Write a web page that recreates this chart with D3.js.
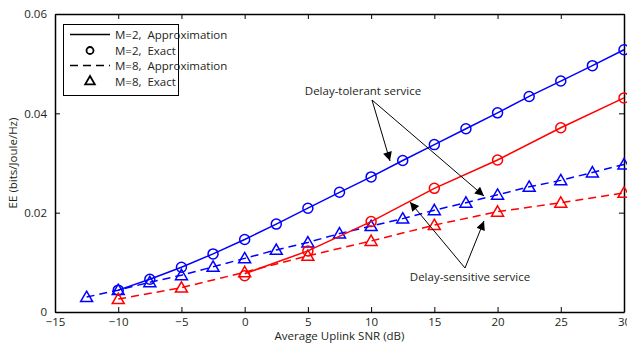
<!DOCTYPE html>
<html>
<head>
<meta charset="utf-8">
<script src="https://cdn.jsdelivr.net/npm/d3@7"></script>
<style>
  html, body { margin: 0; padding: 0; background: #fff; }
  svg { display: block; font-family: "Open Sans", sans-serif; }
</style>
</head>
<body>
<svg id="chart" width="627" height="347"></svg>
<script>
// SNR grid (dB)
const snrFine = [-12.5, -10, -7.5, -5, -2.5, 0, 2.5, 5, 7.5, 10, 12.5, 15, 17.5, 20, 22.5, 25, 27.5, 30];
const snrTolM2 = [-10, -7.5, -5, -2.5, 0, 2.5, 5, 7.5, 10, 12.5, 15, 17.5, 20, 22.5, 25, 27.5, 30];
const snrSensM2 = [0, 5, 10, 15, 20, 25, 30];
const snrSensM8 = [-10, -5, 0, 5, 10, 15, 20, 25, 30];

// Delay-tolerant, M=2 (approximation and exact coincide)
const eeTolM2 = [0.0044, 0.0066, 0.0090, 0.0117, 0.0146, 0.0177, 0.0209, 0.0241, 0.0272, 0.0305, 0.0337, 0.0369, 0.0401, 0.0434, 0.0465, 0.0496, 0.0528];
// Delay-tolerant, M=8
const eeTolM8 = [0.0030, 0.0044, 0.0060, 0.0074, 0.0091, 0.0108, 0.0125, 0.0140, 0.0158, 0.0173, 0.0188, 0.0205, 0.0220, 0.0236, 0.0252, 0.0265, 0.0281, 0.0297];
// Delay-sensitive, M=2
const eeSensM2Approx = [0.0077, 0.0123, 0.0182, 0.0249, 0.0306, 0.0371, 0.0431];
const eeSensM2Exact  = [0.0073, 0.0123, 0.0182, 0.0249, 0.0306, 0.0371, 0.0431];
// Delay-sensitive, M=8
const eeSensM8 = [0.0026, 0.0049, 0.0080, 0.0113, 0.0143, 0.0175, 0.0202, 0.0220, 0.0240];

const xTicks = [-15, -10, -5, 0, 5, 10, 15, 20, 25, 30];
const yTicks = [0, 0.02, 0.04, 0.06];
const yTickLabels = ["0", "0.02", "0.04", "0.06"];

const legendLabels = ["M=2,  Approximation", "M=2,  Exact", "M=8,  Approximation", "M=8,  Exact"];

const svg = d3.select("#chart");
const x = d3.scaleLinear().domain([-15, 30]).range([55, 624]);
const y = d3.scaleLinear().domain([0, 0.06]).range([312, 14]);

const BLUE = "#0000ff", RED = "#ff0000";
const DASH = "8,5";
const TEXT = "#231f20";
const FS = 11.5;

// Axes (MATLAB-style box with inward ticks)
const tickLen = 5;
const axBottom = d3.axisBottom(x).tickValues(xTicks).tickSizeInner(-tickLen).tickSizeOuter(0).tickPadding(8)
  .tickFormat(d => d < 0 ? "\u2212" + Math.abs(d) : String(d));
const axTop = d3.axisTop(x).tickValues(xTicks).tickSizeInner(-tickLen).tickSizeOuter(0).tickFormat("");
const axLeft = d3.axisLeft(y).tickValues(yTicks).tickSizeInner(-tickLen).tickSizeOuter(0).tickPadding(8)
  .tickFormat((d, i) => yTickLabels[i]);
const axRight = d3.axisRight(y).tickValues(yTicks).tickSizeInner(-tickLen).tickSizeOuter(0).tickFormat("");

function styleAxis(g) {
  g.select(".domain").attr("stroke", "#000").attr("stroke-width", 1.5);
  g.selectAll(".tick line").attr("stroke", "#000").attr("stroke-width", 1);
  g.selectAll(".tick text").attr("fill", TEXT).attr("font-size", FS).attr("font-family", "Open Sans, sans-serif");
}

const gx = svg.append("g").attr("transform", `translate(0,${y(0)})`).call(axBottom).call(styleAxis);
svg.append("g").attr("transform", `translate(0,${y(0.06)})`).call(axTop).call(styleAxis);
svg.append("g").attr("transform", `translate(${x(-15)},0)`).call(axLeft).call(styleAxis);
svg.append("g").attr("transform", `translate(${x(30)},0)`).call(axRight).call(styleAxis);
gx.selectAll(".tick text").attr("dy", "0.55em");

// Axis titles
svg.append("text").attr("x", (x(-15) + x(30)) / 2).attr("y", 340).attr("text-anchor", "middle")
  .attr("font-size", FS).attr("fill", TEXT).text("Average Uplink SNR (dB)");
svg.append("text").attr("transform", `translate(17,${(y(0) + y(0.06)) / 2}) rotate(-90)`)
  .attr("text-anchor", "middle").attr("font-size", FS).attr("fill", TEXT).text("EE (bits/Joule/Hz)");

const line = d3.line();
function drawLine(xs, ys, color, dash) {
  svg.append("path")
    .attr("d", line(xs.map((d, i) => [x(d), y(ys[i])])))
    .attr("fill", "none").attr("stroke", color).attr("stroke-width", 1.5)
    .attr("stroke-dasharray", dash || null);
}
const triSymbol = d3.symbol().type(d3.symbolTriangle).size(62);
function drawCircles(xs, ys, color) {
  svg.append("g").selectAll("circle").data(xs).join("circle")
    .attr("cx", d => x(d)).attr("cy", (d, i) => y(ys[i])).attr("r", 5)
    .attr("fill", "none").attr("stroke", color).attr("stroke-width", 1.5);
}
function drawTriangles(xs, ys, color) {
  svg.append("g").selectAll("path").data(xs).join("path")
    .attr("d", triSymbol)
    .attr("transform", (d, i) => `translate(${x(d)},${y(ys[i]) + 1})`)
    .attr("fill", "none").attr("stroke", color).attr("stroke-width", 1.5);
}

// Series
drawLine(snrTolM2, eeTolM2, BLUE);
drawCircles(snrTolM2, eeTolM2, BLUE);
drawLine(snrFine, eeTolM8, BLUE, DASH);
drawTriangles(snrFine, eeTolM8, BLUE);
drawLine(snrSensM2, eeSensM2Approx, RED);
drawCircles(snrSensM2, eeSensM2Exact, RED);
drawLine(snrSensM8, eeSensM8, RED, DASH);
drawTriangles(snrSensM8, eeSensM8, RED);

// Annotations with arrows
const defs = svg.append("defs");
defs.append("marker").attr("id", "arrow").attr("viewBox", "0 0 10 10")
  .attr("refX", 10).attr("refY", 5).attr("markerWidth", 11).attr("markerHeight", 9)
  .attr("markerUnits", "userSpaceOnUse").attr("orient", "auto")
  .append("path").attr("d", "M0,0 L10,5 L0,10 Z").attr("fill", "#000");

function arrow(x1, y1, x2, y2) {
  svg.append("line").attr("x1", x1).attr("y1", y1).attr("x2", x2).attr("y2", y2)
    .attr("stroke", "#000").attr("stroke-width", 1).attr("marker-end", "url(#arrow)");
}

// "Delay-tolerant service" points at the two blue curves
svg.append("text").attr("x", 363).attr("y", 95).attr("text-anchor", "middle")
  .attr("font-size", FS).attr("fill", TEXT).text("Delay-tolerant service");
arrow(372, 100, 390, 161);
arrow(372, 100, 484, 196);

// "Delay-sensitive service" points at the two red curves
svg.append("text").attr("x", 470).attr("y", 281).attr("text-anchor", "middle")
  .attr("font-size", FS).attr("fill", TEXT).text("Delay-sensitive service");
arrow(465, 268, 410, 202);
arrow(465, 268, 484, 221);

// Legend
const lg = svg.append("g");
lg.append("rect").attr("x", 63.5).attr("y", 24.5).attr("width", 115).attr("height", 71)
  .attr("fill", "#fff").attr("stroke", "#000").attr("stroke-width", 1);
const rows = [34.5, 50.5, 65.5, 81.5];
lg.append("line").attr("x1", 70).attr("x2", 110).attr("y1", rows[0]).attr("y2", rows[0])
  .attr("stroke", "#000").attr("stroke-width", 1.5);
lg.append("circle").attr("cx", 90).attr("cy", rows[1]).attr("r", 3.5)
  .attr("fill", "none").attr("stroke", "#000").attr("stroke-width", 1.8);
lg.append("line").attr("x1", 70).attr("x2", 110).attr("y1", rows[2]).attr("y2", rows[2])
  .attr("stroke", "#000").attr("stroke-width", 1.5).attr("stroke-dasharray", "8,5");
lg.append("path").attr("d", d3.symbol().type(d3.symbolTriangle).size(40))
  .attr("transform", `translate(90,${rows[3]})`)
  .attr("fill", "none").attr("stroke", "#000").attr("stroke-width", 1.8);
lg.selectAll("text.lbl").data(legendLabels).join("text").attr("class", "lbl")
  .attr("x", 115).attr("y", (d, i) => rows[i] + 4)
  .attr("font-size", FS).attr("fill", TEXT).attr("xml:space", "preserve")
  .style("white-space", "pre").text(d => d);
</script>
</body>
</html>
